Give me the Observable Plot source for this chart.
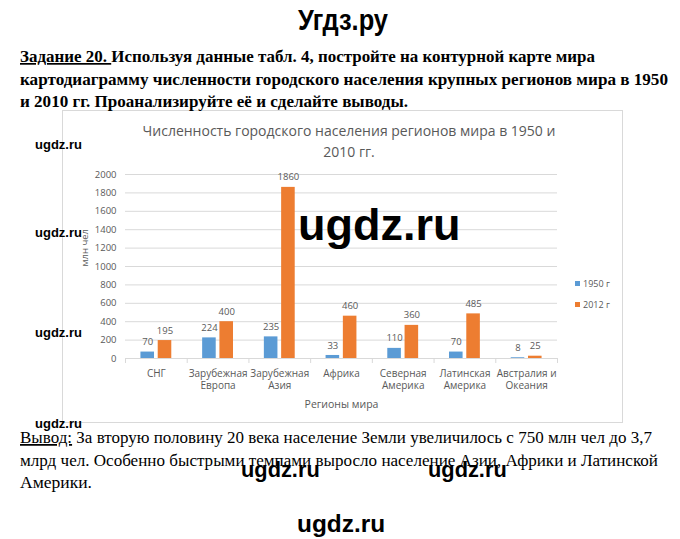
<!DOCTYPE html>
<html><head><meta charset="utf-8">
<script src="https://cdn.jsdelivr.net/npm/d3@7"></script>
<script src="https://cdn.jsdelivr.net/npm/@observablehq/plot@0.6"></script>
<style>
html,body{margin:0;padding:0;background:#fff;}
#page{position:relative;width:680px;height:539px;overflow:hidden;background:#fff;}
#box{position:absolute;left:62px;top:110px;width:559px;height:311px;border:1px solid #d9d9d9;}
#chart{position:absolute;left:62px;top:160px;}
.ctitle{position:absolute;left:62px;width:574px;text-align:center;font-family:'Open Sans',sans-serif;font-size:14px;color:#595959;white-space:nowrap;line-height:16px;}
#legend{position:absolute;left:575px;top:273px;font-family:'Open Sans',sans-serif;font-size:9px;color:#595959;line-height:21px;}
#legend span.sw{display:inline-block;width:5px;height:5px;margin-right:3px;vertical-align:1px;}
#overlay{position:absolute;left:0;top:0;pointer-events:none;}
.serif{font-family:"Liberation Serif","Times New Roman",Tinos,"DejaVu Serif","Noto Serif",serif;}
.wm{font-family:"Liberation Sans",Arial,Arimo,sans-serif;font-weight:bold;}
</style></head><body>
<div id="page">
  <div id="box"></div>
  <div class="ctitle" id="t1" style="top:123px"></div>
  <div class="ctitle" id="t2" style="top:144px"></div>
  <div id="chart"></div>
  <div id="legend"></div>
  <svg id="overlay" width="680" height="539" style="white-space:pre"></svg>
</div>
<script>
// ---- data ----
const regions = ["СНГ", "Зарубежная\nЕвропа", "Зарубежная\nАзия", "Африка", "Северная\nАмерика", "Латинская\nАмерика", "Австралия и\nОкеания"];
const values1950 = [70, 224, 235, 33, 110, 70, 8];
const values2012 = [195, 400, 1860, 460, 360, 485, 25];
const seriesNames = ["1950 г", "2012 г"];
const seriesColors = ["#5B9BD5", "#ED7D31"];
const yTicks = [0, 200, 400, 600, 800, 1000, 1200, 1400, 1600, 1800, 2000];
const titleLines = ["Численность городского населения регионов мира в 1950 и", "2010 гг."];
const yLabel = "млн чел";
const xLabel = "Регионы мира";

// ---- build table ----
const seriesValues = [values1950, values2012];
const barWidth = 0.22, barStart = [0.25, 0.53];
const rows = [];
seriesValues.forEach((vals, s) => vals.forEach((v, i) => rows.push({
  i, series: seriesNames[s], value: v,
  x1: i + barStart[s], x2: i + barStart[s] + barWidth
})));
const boundaries = d3.range(regions.length + 1);
const centers = d3.range(regions.length).map(i => i + 0.5);

const chart = Plot.plot({
  width: 560, height: 250,
  marginLeft: 63, marginRight: 65, marginTop: 14, marginBottom: 52,
  style: {fontFamily: "'Open Sans', sans-serif", color: "#595959", background: "transparent", overflow: "visible"},
  x: {domain: [0, regions.length], axis: null},
  y: {domain: [0, 2000], axis: null},
  color: {domain: seriesNames, range: seriesColors},
  marks: [
    Plot.gridY(yTicks, {stroke: "#d9d9d9", strokeOpacity: 1}),
    Plot.axisY(yTicks, {tickSize: 0, tickPadding: 9, fontSize: 9.5, fill: "#595959", label: null, tickFormat: d => String(d)}),
    Plot.rectY(rows, {x1: "x1", x2: "x2", y: "value", fill: "series"}),
    Plot.ruleY([0], {stroke: "#d9d9d9"}),
    Plot.axisX(boundaries, {tickSize: 5, tickFormat: () => "", stroke: "#d9d9d9", label: null}),
    Plot.axisX(centers, {tickSize: 0, tickPadding: 10, tickFormat: d => regions[Math.floor(d)], fontSize: 10, lineHeight: 1.2, fill: "#595959", label: null}),
    Plot.text(rows, {x: d => (d.x1 + d.x2) / 2, y: "value", text: d => String(d.value), dy: -10, fontSize: 9.5, fill: "#595959"}),
    Plot.text([yLabel], {frameAnchor: "left", rotate: -90, dx: -41, fontSize: 9.5, fill: "#595959"}),
    Plot.text([xLabel], {frameAnchor: "bottom", dy: 46, fontSize: 10.5, fill: "#595959", textAnchor: "middle", lineAnchor: "middle"})
  ]
});
document.getElementById("chart").appendChild(chart);
document.getElementById("t1").textContent = titleLines[0];
document.getElementById("t2").textContent = titleLines[1];
const leg = document.getElementById("legend");
seriesNames.forEach((n, k) => {
  const div = document.createElement("div");
  div.innerHTML = `<span class="sw" style="background:${seriesColors[k]}"></span>${n}`;
  leg.appendChild(div);
});

// ---- page text ----
const heading = "Угдз.ру";
const taskLines = [
  ["Задание 20.  ", "Используя данные табл. 4, постройте на контурной карте мира"],
  ["", "картодиаграмму численности городского населения крупных регионов мира в 1950"],
  ["", "и 2010 гг. Проанализируйте её и сделайте выводы."]
];
const taskWidths = [575, 648, 388];
const conclLines = [
  ["Вывод:", " За вторую половину 20 века население Земли увеличилось с 750 млн чел до 3,7"],
  ["", "млрд чел. Особенно быстрыми темпами выросло население Азии, Африки и Латинской"],
  ["", "Америки."]
];
const conclWidths = [632, 638, 72];
const marks = [
  {t: "ugdz.ru", x: 35, y: 149, s: 13},
  {t: "ugdz.ru", x: 35, y: 237, s: 13},
  {t: "ugdz.ru", x: 35, y: 337, s: 13},
  {t: "ugdz.ru", x: 35, y: 428, s: 13},
  {t: "ugdz.ru", x: 298, y: 240, s: 45},
  {t: "ugdz.ru", x: 241, y: 477, s: 21.8},
  {t: "ugdz.ru", x: 428, y: 477, s: 21.8},
  {t: "ugdz.ru", x: 297, y: 532, s: 24.4}
];
const ov = d3.select("#overlay");
ov.append("text").attr("x", 298).attr("y", 30).attr("class", "wm")
  .attr("font-size", 30).attr("fill", "#000")
  .attr("textLength", 90).attr("lengthAdjust", "spacingAndGlyphs").text(heading);
taskLines.forEach((ln, k) => {
  const t = ov.append("text").attr("x", 20).attr("y", 62 + k * 22.5).attr("class", "serif")
    .style("font-weight", "bold").attr("font-size", 17).attr("fill", "#000")
    .attr("textLength", taskWidths[k]).attr("lengthAdjust", "spacingAndGlyphs");
  if (ln[0]) t.append("tspan").attr("text-decoration", "underline").text(ln[0]);
  t.append("tspan").text(ln[1]);
});
conclLines.forEach((ln, k) => {
  const t = ov.append("text").attr("x", 20).attr("y", 443 + k * 22.5).attr("class", "serif")
    .attr("font-size", 17.5).attr("fill", "#000")
    .attr("textLength", conclWidths[k]).attr("lengthAdjust", "spacingAndGlyphs");
  if (ln[0]) t.append("tspan").attr("text-decoration", "underline").text(ln[0]);
  t.append("tspan").text(ln[1]);
});
marks.forEach(m => ov.append("text").attr("x", m.x).attr("y", m.y).attr("class", "wm")
  .attr("font-size", m.s).attr("fill", "#000").text(m.t));
</script>
</body></html>
